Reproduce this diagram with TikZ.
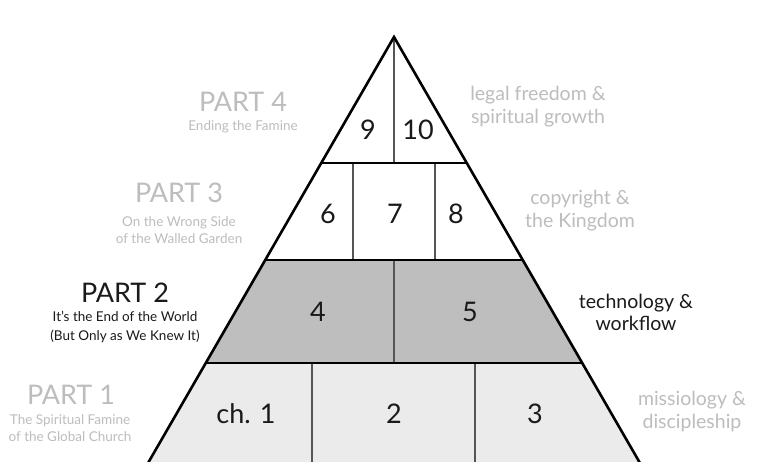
\documentclass[tikz,border=0pt]{standalone}
\usepackage{fontspec}
\setmainfont{Lato}
\definecolor{txtgray}{HTML}{BDBDBD}
\definecolor{txtblack}{HTML}{1A1A1A}
\definecolor{fillmid}{HTML}{BEBEBE}
\definecolor{filllow}{HTML}{EBEBEB}
\definecolor{divgray}{HTML}{555555}
\begin{document}
\begin{tikzpicture}[x=1pt,y=-1pt,
  outline/.style={line width=2.6pt,black,line join=miter},
  hline/.style={line width=2.3pt,black},
  divider/.style={line width=1.1pt,divgray},
  num/.style={font=\fontsize{27}{27}\selectfont,text=txtblack,inner sep=0pt},
  partG/.style={font=\fontsize{27}{27}\selectfont,text=txtgray,inner sep=0pt},
  partB/.style={font=\fontsize{27}{27}\selectfont,text=txtblack,inner sep=0pt},
  subG/.style={font=\fontsize{13.5}{16.5}\selectfont,text=txtgray,inner sep=0pt,align=center},
  subB/.style={font=\fontsize{13.5}{19}\selectfont,text=txtblack,inner sep=0pt,align=center},
  themeG/.style={font=\fontsize{19.5}{23}\selectfont,text=txtgray,inner sep=0pt,align=center},
  themeB/.style={font=\fontsize{19.5}{22}\selectfont,text=txtblack,inner sep=0pt,align=center}]
\useasboundingbox (0,0) rectangle (781,461);
\fill[white] (0,0) rectangle (781,461);
\begin{scope}
\clip (0,0) rectangle (781,461);
% fills
\fill[filllow] (205.8,363) -- (582.2,363) -- (644,470) -- (144,470) -- cycle;
\fill[fillmid] (265.25,260) -- (522.75,260) -- (582.2,363) -- (205.8,363) -- cycle;
% dividers
\draw[divider] (394,37) -- (394,163);
\draw[divider] (353,163) -- (353,260);
\draw[divider] (435,163) -- (435,260);
\draw[divider] (394,260) -- (394,363);
\draw[divider] (312,363) -- (312,470);
\draw[divider] (475,363) -- (475,470);
% horizontal lines
\draw[hline] (321.25,163) -- (466.75,163);
\draw[hline] (265.25,260) -- (522.75,260);
\draw[hline] (205.8,363) -- (582.2,363);
% outline
\draw[outline] (144,470) -- (394,37) -- (644,470);
\end{scope}
% numbers
\node[num] (n9) at (368,130) {9};
\node[num] (n10) at (418,130) {10};
\node[num] (n6) at (328,214) {6};
\node[num] (n7) at (395,214) {7};
\node[num] (n8) at (456,214) {8};
\node[num] (n4) at (318,312) {4};
\node[num] (n5) at (470,312) {5};
\node[num] (n1) at (246,414) {ch. 1};
\node[num] (n2) at (394,414) {2};
\node[num] (n3) at (535,414) {3};
% part labels
\node[partG] (p4) at (243,102) {PART 4};
\node[subG] (p4s) at (243,127) {Ending the Famine};
\node[partG] (p3) at (179,193) {PART 3};
\node[subG] (p3s) at (179,230) {On the Wrong Side\\of the Walled Garden};
\node[partB] (p2) at (125,293) {PART 2};
\node[subB] (p2s) at (125,327) {It's the End of the World\\(But Only as We Knew It)};
\node[partG] (p1) at (71,395) {PART 1};
\node[subG] (p1s) at (70,428) {The Spiritual Famine\\of the Global Church};
% themes
\node[themeG] (t4) at (538,107) {legal freedom \&\\spiritual growth};
\node[themeG] (t3) at (580,211) {copyright \&\\the Kingdom};
\node[themeB] (t2) at (636,312) {technology \&\\workflow};
\node[themeG] (t1) at (692,411) {missiology \&\\discipleship};
\end{tikzpicture}
\end{document}
